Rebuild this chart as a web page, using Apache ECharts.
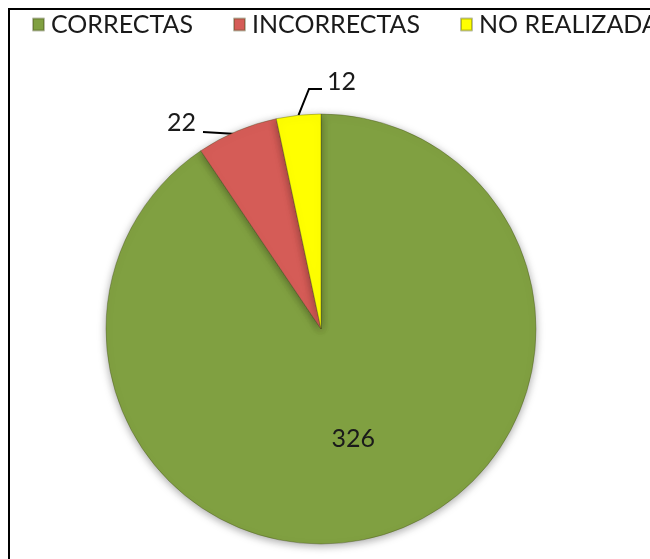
<!DOCTYPE html>
<html>
<head>
<meta charset="utf-8">
<script src="https://cdn.jsdelivr.net/npm/echarts@6/dist/echarts.min.js"></script>
<style>
html,body{margin:0;padding:0;background:#fff;}
#c{width:650px;height:559px;}
</style>
</head>
<body>
<div id="c"></div>
<script>
var categories = ['CORRECTAS', 'INCORRECTAS', 'NO REALIZADA'];
var values = [326, 22, 12];
var colors = ['#80a041', '#d55c57', '#ffff00'];
var legendLefts = [32, 233, 460];

var chart = echarts.init(document.getElementById('c'), null, {renderer: 'canvas'});
var FONT = 'Lato, "Open Sans", sans-serif';

var data = categories.map(function (name, i) {
  var d = {
    name: name,
    value: values[i],
    itemStyle: {color: colors[i]}
  };
  if (i === 0) {
    d.label = {position: 'inside', offset: [0, 4]};
    d.labelLine = {show: false};
  }
  return d;
});

var legends = categories.map(function (name, i) {
  return {
    data: [name],
    left: legendLefts[i],
    top: 12,
    padding: 0,
    itemWidth: 11,
    itemHeight: 12,
    itemGap: 0,
    icon: 'rect',
    selectedMode: false,
    textStyle: {fontFamily: FONT, fontSize: 25, color: '#1a1a1a', padding: [0, 0, 0, 2]}
  };
});

chart.setOption({
  animation: false,
  backgroundColor: '#fff',
  graphic: [{
    type: 'rect',
    shape: {x: 9, y: 9, width: 700, height: 600},
    style: {fill: 'none', stroke: '#000', lineWidth: 2},
    silent: true,
    z: 0
  }],
  legend: legends,
  series: [{
    type: 'pie',
    center: [321, 329],
    radius: 215,
    startAngle: 90,
    clockwise: true,
    data: data,
    itemStyle: {
      borderColor: 'rgba(60,70,20,0.35)',
      borderWidth: 1,
      shadowBlur: 8,
      shadowColor: 'rgba(0,0,0,0.35)',
      shadowOffsetY: 2
    },
    label: {
      show: true,
      formatter: '{c}',
      fontFamily: FONT,
      fontSize: 25,
      color: '#1a1a1a',
      position: 'outside'
    },
    labelLine: {
      show: true,
      lineStyle: {color: '#000', width: 2},
      length: 10,
      length2: 20
    },
    labelLayout: function (params) {
      var p0 = params.labelLinePoints ? params.labelLinePoints[0] : null;
      if (params.dataIndex === 1 && p0) {
        return {
          x: 196, y: 123, align: 'right', verticalAlign: 'middle',
          labelLinePoints: [[p0[0] - 1, 134], [220, 133], [203, 132]]
        };
      }
      if (params.dataIndex === 2 && p0) {
        return {
          x: 327, y: 82, align: 'left', verticalAlign: 'middle',
          labelLinePoints: [[p0[0], p0[1]], [309, 89], [322, 89]]
        };
      }
      return {};
    },
    emphasis: {disabled: true}
  }]
});
</script>
</body>
</html>
